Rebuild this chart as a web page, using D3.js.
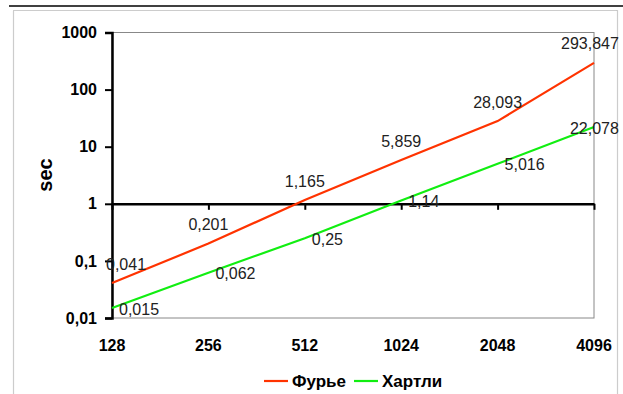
<!DOCTYPE html>
<html>
<head>
<meta charset="utf-8">
<script src="https://cdn.jsdelivr.net/npm/d3@7"></script>
<style>
  body { margin: 0; background: #fff; }
  text { font-family: "Liberation Sans", Arial, sans-serif; }
</style>
</head>
<body>
<div id="chart"></div>
<script>
// categories (N) and timings in seconds
const sizes = ["128", "256", "512", "1024", "2048", "4096"];
const fourier = [0.041, 0.201, 1.165, 5.859, 28.093, 293.847];
const hartley = [0.015, 0.062, 0.25, 1.14, 5.016, 22.078];
const yTicks = [0.01, 0.1, 1, 10, 100, 1000];
const tickText = ["0,01", "0,1", "1", "10", "100", "1000"];
const seriesNames = ["Фурье", "Хартли"];
const seriesColors = ["#ff3300", "#11ee11"];

const W = 623, H = 394;
const plotL = 112, plotR = 594, plotT = 32.5, plotB = 318;

var svg = d3.select("#chart")
            .append("svg")
            .attr("width", W)
            .attr("height", H)
            .attr("display", "block");

// top rule and outer frame
svg.append("line")
   .attr("x1", 9).attr("x2", W)
   .attr("y1", 6).attr("y2", 6)
   .attr("stroke", "#000").attr("stroke-width", 1.5);
svg.append("rect")
   .attr("x", 13.5).attr("y", 10.5)
   .attr("width", 604).attr("height", 400)
   .attr("fill", "none")
   .attr("stroke", "#999").attr("stroke-width", 1.2)
   .attr("stroke-dasharray", "1,1");

var x = d3.scalePoint().domain(sizes).range([plotL, plotR]);
var y = d3.scaleLog().domain([0.01, 1000]).range([plotB, plotT]);

// plot area border
svg.append("rect")
   .attr("x", plotL).attr("y", plotT)
   .attr("width", plotR - plotL).attr("height", plotB - plotT)
   .attr("fill", "none")
   .attr("stroke", "#888").attr("stroke-width", 1);

// y axis
var yAxis = d3.axisLeft(y)
              .tickValues(yTicks)
              .tickSize(7)
              .tickFormat((d, i) => tickText[i]);
var gy = svg.append("g")
            .attr("transform", "translate(" + plotL + ",0)")
            .call(yAxis);
gy.select(".domain").attr("stroke", "#000").attr("stroke-width", 2.5);
gy.selectAll(".tick line").attr("stroke", "#000").attr("stroke-width", 2);
gy.selectAll(".tick text")
  .attr("x", -15)
  .attr("fill", "#000")
  .style("font-size", "16px")
  .style("font-weight", "bold");

// x axis crosses at 1
var xAxis = d3.axisBottom(x).tickSize(6).tickSizeOuter(0).tickFormat("");
var gx = svg.append("g")
            .attr("transform", "translate(0," + y(1) + ")")
            .call(xAxis);
gx.select(".domain").attr("stroke", "#000").attr("stroke-width", 2.5);
gx.selectAll(".tick line").attr("stroke", "#000").attr("stroke-width", 2);

// category labels at the bottom
svg.selectAll(".xlab")
   .data(sizes)
   .enter().append("text")
   .attr("class", "xlab")
   .attr("x", d => x(d))
   .attr("y", 351)
   .attr("text-anchor", "middle")
   .style("font-size", "16px")
   .style("font-weight", "bold")
   .text(d => d);

// y title
svg.append("text")
   .attr("transform", "translate(52,175) rotate(-90)")
   .attr("text-anchor", "middle")
   .style("font-size", "20px")
   .style("font-weight", "bold")
   .text("sec");

// lines
var line = d3.line()
             .x((d, i) => x(sizes[i]))
             .y(d => y(d));
[fourier, hartley].forEach(function(vals, s) {
  svg.append("path")
     .datum(vals)
     .attr("d", line)
     .attr("fill", "none")
     .attr("stroke", seriesColors[s])
     .attr("stroke-width", 2.2);
});

function fmt(v) { return String(v).replace(".", ","); }

// data labels: Fourier above, Hartley to the right
svg.selectAll(".lab1")
   .data(fourier)
   .enter().append("text")
   .attr("class", "lab1")
   .attr("x", (d, i) => x(sizes[i]))
   .attr("y", d => y(d) - 19)
   .attr("dy", "0.35em")
   .attr("text-anchor", "middle")
   .attr("fill", "#222")
   .style("font-size", "16px")
   .text(fmt);
svg.selectAll(".lab2")
   .data(hartley)
   .enter().append("text")
   .attr("class", "lab2")
   .attr("x", (d, i) => x(sizes[i]) + 7)
   .attr("y", d => y(d) + 1)
   .attr("dy", "0.35em")
   .attr("text-anchor", "start")
   .attr("fill", "#222")
   .style("font-size", "16px")
   .text(fmt);

// keep labels inside the chart area
svg.selectAll(".lab1, .lab2").each(function() {
  var b = this.getBBox();
  var shift = 0;
  if (b.x < plotL - 6) shift = (plotL - 6) - b.x;
  if (b.x + b.width > 619) shift = 619 - (b.x + b.width);
  if (shift) d3.select(this).attr("x", +d3.select(this).attr("x") + shift);
});

// legend
var legX = [264, 354];
seriesNames.forEach(function(name, s) {
  svg.append("line")
     .attr("x1", legX[s]).attr("x2", legX[s] + 24)
     .attr("y1", 381).attr("y2", 381)
     .attr("stroke", seriesColors[s]).attr("stroke-width", 2.2);
  svg.append("text")
     .attr("x", legX[s] + 28)
     .attr("y", 381)
     .attr("dy", "0.35em")
     .style("font-size", "17px")
     .style("font-weight", "bold")
     .text(name);
});
</script>
</body>
</html>
